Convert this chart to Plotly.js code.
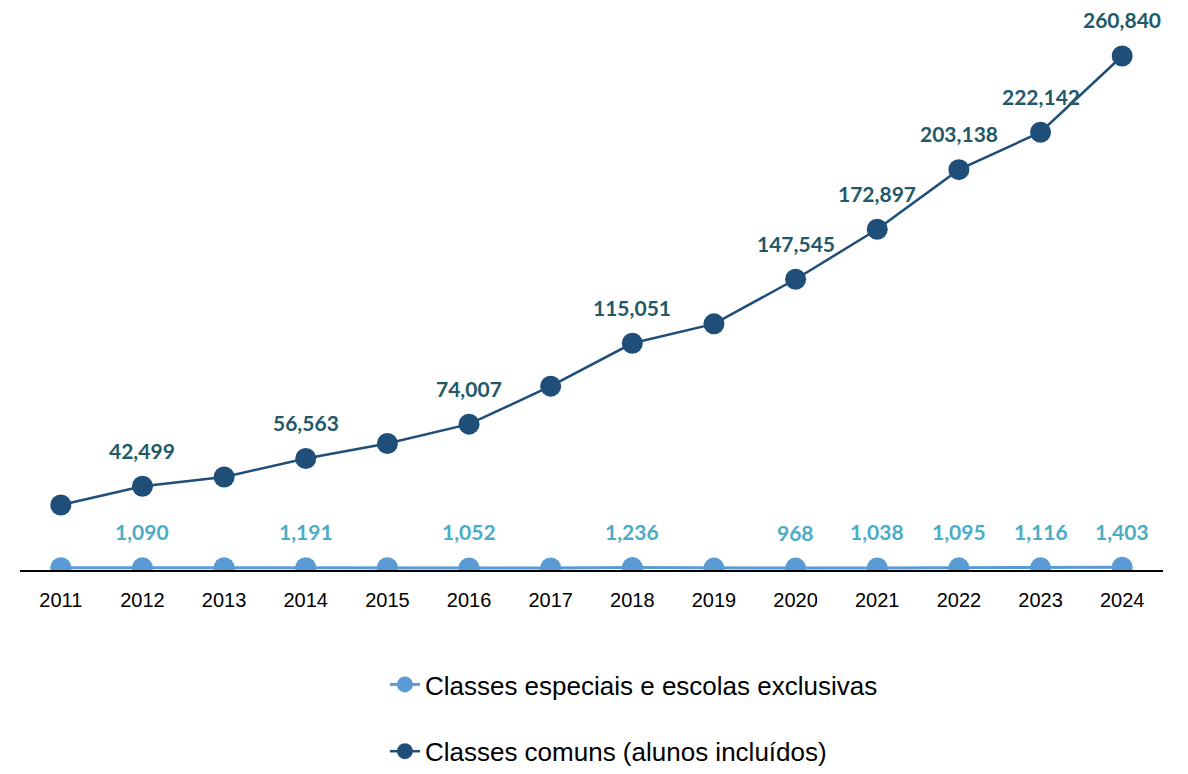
<!DOCTYPE html>
<html>
<head>
<meta charset="utf-8">
<script src="https://cdn.plot.ly/plotly-3.0.1.min.js"></script>
<style>
html,body{margin:0;padding:0;background:#ffffff;}
#chart{width:1188px;height:774px;}
</style>
</head>
<body>
<div id="chart"></div>
<script>
const years = [2011, 2012, 2013, 2014, 2015, 2016, 2017, 2018, 2019, 2020, 2021, 2022, 2023, 2024];
const yearLabels = ["2011","2012","2013","2014","2015","2016","2017","2018","2019","2020","2021","2022","2023","2024"];
const especiais = [1150, 1090, 1180, 1191, 1120, 1052, 1010, 1236, 990, 968, 1038, 1095, 1116, 1403];
const comuns = [33000, 42499, 47200, 56563, 64200, 74007, 93300, 115051, 124900, 147545, 172897, 203138, 222142, 260840];
const showLabel = [false, true, false, true, false, true, false, true, false, true, true, true, true, true];
const seriesNames = ["Classes especiais e escolas exclusivas", "Classes comuns (alunos incluídos)"];

const lightColor = "#5B9BD5";
const darkColor = "#1F4E79";
const lightLabel = "#4BACC6";
const darkLabel = "#215968";

const fmt = v => v.toLocaleString("en-US");

const traces = [
  {
    x: years, y: especiais, name: seriesNames[0], type: "scatter", mode: "lines+markers",
    line: {color: lightColor, width: 3},
    marker: {color: lightColor, size: 21},
    legendgroup: "a", hoverinfo: "skip"
  },
  {
    x: years, y: comuns, name: seriesNames[1], type: "scatter", mode: "lines+markers",
    line: {color: darkColor, width: 2.5},
    marker: {color: darkColor, size: 21},
    legendgroup: "b", hoverinfo: "skip"
  }
];

const annotations = [];
years.forEach((yr, i) => {
  if (!showLabel[i]) return;
  annotations.push({
    x: yr, y: comuns[i], xref: "x", yref: "y", text: fmt(comuns[i]),
    showarrow: false, yanchor: "middle", yshift: 36,
    font: {family: "Lato, 'Open Sans', sans-serif", size: 21, color: darkLabel, weight: 700}
  });
  annotations.push({
    x: yr, y: especiais[i], xref: "x", yref: "y", text: fmt(especiais[i]),
    showarrow: false, yanchor: "middle", yshift: 36,
    font: {family: "Lato, 'Open Sans', sans-serif", size: 21, color: lightLabel, weight: 700}
  });
});

const layout = {
  width: 1188, height: 774,
  paper_bgcolor: "#ffffff", plot_bgcolor: "#ffffff",
  margin: {l: 20, r: 25, t: 20, b: 204, autoexpand: false},
  showlegend: true,
  legend: {
    orientation: "v", xref: "container", yref: "container",
    x: 0.324, xanchor: "left", y: 0.146, yanchor: "top",
    font: {family: "'Liberation Sans', Arial, sans-serif", size: 26, color: "#000000"},
    tracegroupgap: 30, bgcolor: "rgba(0,0,0,0)"
  },
  xaxis: {
    range: [2010.5, 2024.5], tickvals: years, ticktext: yearLabels,
    showgrid: false, zeroline: false, showline: true, linecolor: "#000000", linewidth: 1.5,
    ticks: "", ticklabelstandoff: 11, tickangle: 0, automargin: false,
    tickfont: {family: "'Liberation Sans', Arial, sans-serif", size: 20, color: "#000000"},
    fixedrange: true
  },
  yaxis: {
    range: [0, 279100], visible: false, showgrid: false, zeroline: false, fixedrange: true
  },
  annotations: annotations
};

Plotly.newPlot("chart", traces, layout, {displayModeBar: false, staticPlot: true});
</script>
</body>
</html>
